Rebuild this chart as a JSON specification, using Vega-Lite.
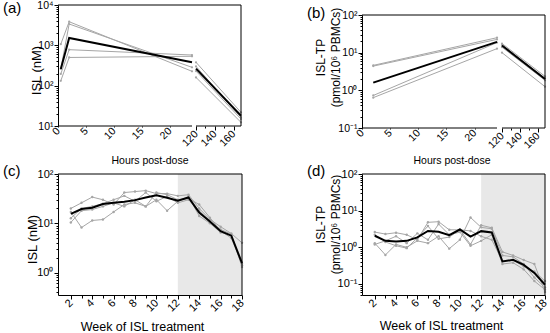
{
  "$schema": "https://vega.github.io/schema/vega-lite/v6.json",
  "padding": {"left": 3, "top": 0, "right": 0, "bottom": 0},
  "datasets": {
    "a": [
      {"id": "P1", "s": 1, "t": 0.5, "v": 1070}, {"id": "P1", "s": 1, "t": 2, "v": 3850}, {"id": "P1", "s": 1, "t": 24, "v": 227}, {"id": "P1", "s": 2, "t": 120, "v": 380}, {"id": "P1", "s": 2, "t": 168, "v": 21.8},
      {"id": "P2", "s": 1, "t": 0.5, "v": 260}, {"id": "P2", "s": 1, "t": 2, "v": 3380}, {"id": "P2", "s": 1, "t": 24, "v": 285}, {"id": "P2", "s": 2, "t": 120, "v": 300}, {"id": "P2", "s": 2, "t": 168, "v": 16.4},
      {"id": "P3", "s": 1, "t": 0.5, "v": 195}, {"id": "P3", "s": 1, "t": 2, "v": 780}, {"id": "P3", "s": 1, "t": 24, "v": 575}, {"id": "P3", "s": 2, "t": 120, "v": 230}, {"id": "P3", "s": 2, "t": 168, "v": 14.9},
      {"id": "P4", "s": 1, "t": 0.5, "v": 132}, {"id": "P4", "s": 1, "t": 2, "v": 500}, {"id": "P4", "s": 1, "t": 24, "v": 535}, {"id": "P4", "s": 2, "t": 120, "v": 160}, {"id": "P4", "s": 2, "t": 168, "v": 12.3},
      {"id": "GM", "s": 1, "t": 0.5, "v": 260}, {"id": "GM", "s": 1, "t": 2, "v": 1520}, {"id": "GM", "s": 1, "t": 24, "v": 380}, {"id": "GM", "s": 2, "t": 120, "v": 265}, {"id": "GM", "s": 2, "t": 168, "v": 18}
    ],
    "b": [
      {"id": "P1", "s": 1, "t": 2, "v": 4.6}, {"id": "P1", "s": 1, "t": 24, "v": 25}, {"id": "P1", "s": 2, "t": 120, "v": 17.5}, {"id": "P1", "s": 2, "t": 168, "v": 2.35},
      {"id": "P2", "s": 1, "t": 2, "v": 4.4}, {"id": "P2", "s": 1, "t": 24, "v": 22.5}, {"id": "P2", "s": 2, "t": 120, "v": 16}, {"id": "P2", "s": 2, "t": 168, "v": 2.1},
      {"id": "P3", "s": 1, "t": 2, "v": 0.73}, {"id": "P3", "s": 1, "t": 24, "v": 18.5}, {"id": "P3", "s": 2, "t": 120, "v": 14}, {"id": "P3", "s": 2, "t": 168, "v": 1.85},
      {"id": "P4", "s": 1, "t": 2, "v": 0.64}, {"id": "P4", "s": 1, "t": 24, "v": 12.8}, {"id": "P4", "s": 2, "t": 120, "v": 10}, {"id": "P4", "s": 2, "t": 168, "v": 1.25},
      {"id": "GM", "s": 1, "t": 2, "v": 1.6}, {"id": "GM", "s": 1, "t": 24, "v": 19.4}, {"id": "GM", "s": 2, "t": 120, "v": 15.5}, {"id": "GM", "s": 2, "t": 168, "v": 2.0}
    ],
    "c": [
      {"id": "P1", "t": 2, "v": 20}, {"id": "P1", "t": 3, "v": 26}, {"id": "P1", "t": 4, "v": 34}, {"id": "P1", "t": 5, "v": 30}, {"id": "P1", "t": 6, "v": 24}, {"id": "P1", "t": 7, "v": 42}, {"id": "P1", "t": 8, "v": 44}, {"id": "P1", "t": 9, "v": 46}, {"id": "P1", "t": 10, "v": 40}, {"id": "P1", "t": 11, "v": 40}, {"id": "P1", "t": 12, "v": 36}, {"id": "P1", "t": 13, "v": 38}, {"id": "P1", "t": 14, "v": 20}, {"id": "P1", "t": 15, "v": 12}, {"id": "P1", "t": 16, "v": 8.5}, {"id": "P1", "t": 17, "v": 6.2}, {"id": "P1", "t": 18, "v": 4.0},
      {"id": "P2", "t": 2, "v": 17}, {"id": "P2", "t": 3, "v": 8.2}, {"id": "P2", "t": 4, "v": 11.4}, {"id": "P2", "t": 5, "v": 11.9}, {"id": "P2", "t": 6, "v": 17}, {"id": "P2", "t": 7, "v": 24}, {"id": "P2", "t": 8, "v": 26}, {"id": "P2", "t": 9, "v": 22}, {"id": "P2", "t": 10, "v": 30}, {"id": "P2", "t": 11, "v": 18}, {"id": "P2", "t": 12, "v": 28}, {"id": "P2", "t": 13, "v": 35}, {"id": "P2", "t": 14, "v": 14}, {"id": "P2", "t": 15, "v": 10}, {"id": "P2", "t": 16, "v": 6.5}, {"id": "P2", "t": 17, "v": 5.8}, {"id": "P2", "t": 18, "v": 1.4},
      {"id": "P3", "t": 2, "v": 12.7}, {"id": "P3", "t": 3, "v": 20}, {"id": "P3", "t": 4, "v": 22}, {"id": "P3", "t": 5, "v": 25}, {"id": "P3", "t": 6, "v": 30}, {"id": "P3", "t": 7, "v": 36}, {"id": "P3", "t": 8, "v": 28}, {"id": "P3", "t": 9, "v": 42}, {"id": "P3", "t": 10, "v": 28}, {"id": "P3", "t": 11, "v": 35}, {"id": "P3", "t": 12, "v": 26}, {"id": "P3", "t": 13, "v": 30}, {"id": "P3", "t": 14, "v": 18}, {"id": "P3", "t": 15, "v": 11}, {"id": "P3", "t": 16, "v": 7.5}, {"id": "P3", "t": 17, "v": 6}, {"id": "P3", "t": 18, "v": 1.3},
      {"id": "P4", "t": 2, "v": 10.4}, {"id": "P4", "t": 3, "v": 18}, {"id": "P4", "t": 4, "v": 19}, {"id": "P4", "t": 5, "v": 22}, {"id": "P4", "t": 6, "v": 26}, {"id": "P4", "t": 7, "v": 22}, {"id": "P4", "t": 8, "v": 30}, {"id": "P4", "t": 9, "v": 22}, {"id": "P4", "t": 10, "v": 42}, {"id": "P4", "t": 11, "v": 38}, {"id": "P4", "t": 12, "v": 30}, {"id": "P4", "t": 13, "v": 32}, {"id": "P4", "t": 14, "v": 24}, {"id": "P4", "t": 15, "v": 13}, {"id": "P4", "t": 16, "v": 7}, {"id": "P4", "t": 17, "v": 5}, {"id": "P4", "t": 18, "v": 1.5},
      {"id": "GM", "t": 2, "v": 15.5}, {"id": "GM", "t": 3, "v": 19.5}, {"id": "GM", "t": 4, "v": 20.7}, {"id": "GM", "t": 5, "v": 24.5}, {"id": "GM", "t": 6, "v": 26}, {"id": "GM", "t": 7, "v": 27.3}, {"id": "GM", "t": 8, "v": 29.5}, {"id": "GM", "t": 9, "v": 33.4}, {"id": "GM", "t": 10, "v": 37.2}, {"id": "GM", "t": 11, "v": 32.9}, {"id": "GM", "t": 12, "v": 28.6}, {"id": "GM", "t": 13, "v": 33.4}, {"id": "GM", "t": 14, "v": 16.5}, {"id": "GM", "t": 15, "v": 10.9}, {"id": "GM", "t": 16, "v": 6.9}, {"id": "GM", "t": 17, "v": 5.6}, {"id": "GM", "t": 18, "v": 1.55}
    ],
    "d": [
      {"id": "P1", "t": 2, "v": 2.6}, {"id": "P1", "t": 3, "v": 2.3}, {"id": "P1", "t": 4, "v": 2.5}, {"id": "P1", "t": 5, "v": 2.2}, {"id": "P1", "t": 6, "v": 1.6}, {"id": "P1", "t": 7, "v": 4.8}, {"id": "P1", "t": 8, "v": 5.0}, {"id": "P1", "t": 9, "v": 3.0}, {"id": "P1", "t": 10, "v": 3.0}, {"id": "P1", "t": 11, "v": 1.2}, {"id": "P1", "t": 12, "v": 4.0}, {"id": "P1", "t": 13, "v": 3.4}, {"id": "P1", "t": 14, "v": 0.75}, {"id": "P1", "t": 15, "v": 0.6}, {"id": "P1", "t": 16, "v": 0.45}, {"id": "P1", "t": 17, "v": 0.35}, {"id": "P1", "t": 18, "v": 0.06},
      {"id": "P2", "t": 2, "v": 1.3}, {"id": "P2", "t": 3, "v": 0.62}, {"id": "P2", "t": 4, "v": 1.2}, {"id": "P2", "t": 5, "v": 1.0}, {"id": "P2", "t": 6, "v": 1.5}, {"id": "P2", "t": 7, "v": 1.3}, {"id": "P2", "t": 8, "v": 2.0}, {"id": "P2", "t": 9, "v": 0.92}, {"id": "P2", "t": 10, "v": 1.6}, {"id": "P2", "t": 11, "v": 6.5}, {"id": "P2", "t": 12, "v": 3.5}, {"id": "P2", "t": 13, "v": 3.2}, {"id": "P2", "t": 14, "v": 0.6}, {"id": "P2", "t": 15, "v": 0.55}, {"id": "P2", "t": 16, "v": 0.35}, {"id": "P2", "t": 17, "v": 0.15}, {"id": "P2", "t": 18, "v": 0.08},
      {"id": "P3", "t": 2, "v": 2.2}, {"id": "P3", "t": 3, "v": 1.4}, {"id": "P3", "t": 4, "v": 1.1}, {"id": "P3", "t": 5, "v": 0.95}, {"id": "P3", "t": 6, "v": 1.8}, {"id": "P3", "t": 7, "v": 3.8}, {"id": "P3", "t": 8, "v": 1.7}, {"id": "P3", "t": 9, "v": 1.9}, {"id": "P3", "t": 10, "v": 3.0}, {"id": "P3", "t": 11, "v": 2.8}, {"id": "P3", "t": 12, "v": 2.0}, {"id": "P3", "t": 13, "v": 1.6}, {"id": "P3", "t": 14, "v": 0.42}, {"id": "P3", "t": 15, "v": 0.45}, {"id": "P3", "t": 16, "v": 0.3}, {"id": "P3", "t": 17, "v": 0.22}, {"id": "P3", "t": 18, "v": 0.12},
      {"id": "P4", "t": 2, "v": 1.2}, {"id": "P4", "t": 3, "v": 1.5}, {"id": "P4", "t": 4, "v": 2.0}, {"id": "P4", "t": 5, "v": 1.3}, {"id": "P4", "t": 6, "v": 2.4}, {"id": "P4", "t": 7, "v": 1.6}, {"id": "P4", "t": 8, "v": 4.3}, {"id": "P4", "t": 9, "v": 2.2}, {"id": "P4", "t": 10, "v": 2.6}, {"id": "P4", "t": 11, "v": 1.1}, {"id": "P4", "t": 12, "v": 1.5}, {"id": "P4", "t": 13, "v": 2.2}, {"id": "P4", "t": 14, "v": 0.35}, {"id": "P4", "t": 15, "v": 0.38}, {"id": "P4", "t": 16, "v": 0.25}, {"id": "P4", "t": 17, "v": 0.12}, {"id": "P4", "t": 18, "v": 0.07},
      {"id": "GM", "t": 2, "v": 2.07}, {"id": "GM", "t": 3, "v": 1.5}, {"id": "GM", "t": 4, "v": 1.43}, {"id": "GM", "t": 5, "v": 1.5}, {"id": "GM", "t": 6, "v": 1.86}, {"id": "GM", "t": 7, "v": 2.8}, {"id": "GM", "t": 8, "v": 2.65}, {"id": "GM", "t": 9, "v": 2.15}, {"id": "GM", "t": 10, "v": 3.06}, {"id": "GM", "t": 11, "v": 1.95}, {"id": "GM", "t": 12, "v": 2.76}, {"id": "GM", "t": 13, "v": 2.54}, {"id": "GM", "t": 14, "v": 0.41}, {"id": "GM", "t": 15, "v": 0.455}, {"id": "GM", "t": 16, "v": 0.33}, {"id": "GM", "t": 17, "v": 0.2}, {"id": "GM", "t": 18, "v": 0.095}
    ],
    "shade": [{"s": 12, "e": 18}],
    "segs": [{"x0": 0, "x1": 24}, {"x0": 120, "x1": 168}],
    "one": [{}]
  },
  "bounds": "flush",
  "columns": 2,
  "spacing": {"row": 46, "column": 120},
  "concat": [
    {
      "width": 183, "height": 121,
      "title": {"text": "(a)", "anchor": "start", "frame": "group", "dx": -55, "dy": 27.5, "offset": 0, "baseline": "alphabetic", "fontSize": 15, "fontWeight": "normal", "font": "Liberation Sans", "color": "#000"},
      "data": {"name": "a"},
      "layer": [
        {
          "transform": [{"filter": "datum.id != 'GM'"}],
          "mark": {"type": "line", "color": "#a6a6a6", "strokeWidth": 1, "point": {"filled": true, "size": 5, "color": "#a6a6a6"}},
          "encoding": {
            "x": {"field": "t", "type": "quantitative", "scale": {"domain": [0, 24, 120, 168], "range": [0, 134, 138, 183], "nice": false, "zero": false},
              "axis": {"title": "Hours post-dose", "domain": false, "tickCount": 100, "values": [0, 2.5, 5, 7.5, 10, 12.5, 15, 17.5, 20, 22.5, 120, 130, 140, 150, 160], "labelExpr": "(datum.value < 24 ? datum.value % 5 == 0 : datum.value % 20 == 0) ? format(datum.value, 'd') : ''", "tickSize": {"condition": {"test": "datum.value < 24 ? datum.value % 5 == 0 : datum.value % 20 == 0", "value": 4}, "value": 2}, "labelAngle": -45, "labelAlign": "right", "labelBaseline": "middle", "labelFontSize": 10.5, "titleFontSize": 10.5, "titleX": 91.5, "titleY": 37, "titleBaseline": "alphabetic", "labelPadding": 2}},
            "y": {"field": "v", "type": "quantitative", "scale": {"type": "log", "domain": [10, 10000], "nice": false},
              "axis": {"title": "ISL (nM)", "tickCount": 100, "values": [10, 20, 30, 40, 50, 60, 70, 80, 90, 100, 200, 300, 400, 500, 600, 700, 800, 900, 1000, 2000, 3000, 4000, 5000, 6000, 7000, 8000, 9000, 10000], "labelExpr": "datum.value==10000?'10⁴':datum.value==1000?'10³':datum.value==100?'10²':datum.value==10?'10¹':''", "tickSize": {"condition": {"test": "datum.value==10||datum.value==100||datum.value==1000||datum.value==10000", "value": 4}, "value": 2}, "labelFontSize": 10.5, "titleFontSize": 13, "titleX": -22, "titleY": 65, "titleBaseline": "middle", "labelPadding": 1}},
            "detail": [{"field": "id"}, {"field": "s"}]
          }
        },
        {
          "transform": [{"filter": "datum.id == 'GM'"}],
          "mark": {"type": "line", "color": "#000", "strokeWidth": 2},
          "encoding": {"x": {"field": "t", "type": "quantitative"}, "y": {"field": "v", "type": "quantitative"}, "detail": {"field": "s"}}
        },
        {
          "data": {"name": "segs"},
          "mark": {"type": "rule", "color": "#000", "strokeWidth": 1},
          "encoding": {"x": {"field": "x0", "type": "quantitative"}, "x2": {"field": "x1"}, "y": {"datum": 10}}
        },
        {
          "data": {"name": "one"},
          "mark": {"type": "rule", "color": "#000", "strokeWidth": 1},
          "encoding": {"y": {"datum": 10000}}
        },
        {
          "data": {"name": "one"},
          "mark": {"type": "rule", "color": "#000", "strokeWidth": 1},
          "encoding": {"x": {"datum": 168}}
        }
      ]
    },
    {
      "width": 183, "height": 123,
      "title": {"text": "(b)", "anchor": "start", "frame": "group", "dx": -55, "dy": 27.5, "offset": 0, "baseline": "alphabetic", "fontSize": 15, "fontWeight": "normal", "font": "Liberation Sans", "color": "#000"},
      "data": {"name": "b"},
      "layer": [
        {
          "transform": [{"filter": "datum.id != 'GM'"}],
          "mark": {"type": "line", "color": "#a6a6a6", "strokeWidth": 1, "point": {"filled": true, "size": 5, "color": "#a6a6a6"}},
          "encoding": {
            "x": {"field": "t", "type": "quantitative", "scale": {"domain": [0, 24, 120, 168], "range": [0, 135, 140, 183], "nice": false, "zero": false},
              "axis": {"title": "Hours post-dose", "domain": false, "tickCount": 100, "values": [0, 2.5, 5, 7.5, 10, 12.5, 15, 17.5, 20, 22.5, 120, 130, 140, 150, 160], "labelExpr": "(datum.value < 24 ? datum.value % 5 == 0 : datum.value % 20 == 0) ? format(datum.value, 'd') : ''", "tickSize": {"condition": {"test": "datum.value < 24 ? datum.value % 5 == 0 : datum.value % 20 == 0", "value": 4}, "value": 2}, "labelAngle": -45, "labelAlign": "right", "labelBaseline": "middle", "labelFontSize": 10.5, "titleFontSize": 10.5, "titleX": 89.5, "titleY": 35.5, "titleBaseline": "alphabetic", "labelPadding": 2}},
            "y": {"field": "v", "type": "quantitative", "scale": {"type": "log", "domain": [0.1, 100], "nice": false, "range": [123, 10]},
              "axis": {"title": ["ISL-TP", "(pmol/10⁶ PBMCs)"], "tickCount": 100, "values": [0.1, 0.2, 0.3, 0.4, 0.5, 0.6, 0.7, 0.8, 0.9, 1, 2, 3, 4, 5, 6, 7, 8, 9, 10, 20, 30, 40, 50, 60, 70, 80, 90, 100], "labelExpr": "datum.value==100?'10²':datum.value==10?'10¹':datum.value==1?'10⁰':datum.value==0.1?'10⁻¹':''", "tickSize": {"condition": {"test": "datum.value==0.1||datum.value==1||datum.value==10||datum.value==100", "value": 4}, "value": 2}, "labelFontSize": 10.5, "titleFontSize": 12, "titleLineHeight": 15, "titleX": -42, "titleY": 52, "titleBaseline": "middle", "labelPadding": 1}},
            "detail": [{"field": "id"}, {"field": "s"}]
          }
        },
        {
          "transform": [{"filter": "datum.id == 'GM'"}],
          "mark": {"type": "line", "color": "#000", "strokeWidth": 2},
          "encoding": {"x": {"field": "t", "type": "quantitative"}, "y": {"field": "v", "type": "quantitative"}, "detail": {"field": "s"}}
        },
        {
          "data": {"name": "segs"},
          "mark": {"type": "rule", "color": "#000", "strokeWidth": 1},
          "encoding": {"x": {"field": "x0", "type": "quantitative"}, "x2": {"field": "x1"}, "y": {"datum": 0.1}}
        },
        {
          "data": {"name": "one"},
          "mark": {"type": "rule", "color": "#000", "strokeWidth": 1},
          "encoding": {"y": {"datum": 100}}
        },
        {
          "data": {"name": "one"},
          "mark": {"type": "rule", "color": "#000", "strokeWidth": 1},
          "encoding": {"x": {"datum": 168}, "y": {"datum": 0.1}, "y2": {"datum": 100}}
        }
      ]
    },
    {
      "width": 184, "height": 121,
      "title": {"text": "(c)", "anchor": "start", "frame": "group", "dx": -55, "dy": 23, "offset": 0, "baseline": "alphabetic", "fontSize": 15, "fontWeight": "normal", "font": "Liberation Sans", "color": "#000"},
      "data": {"name": "c"},
      "layer": [
        {
          "data": {"name": "shade"},
          "mark": {"type": "rect", "color": "#e8e8e8"},
          "encoding": {"x": {"field": "s", "type": "quantitative"}, "x2": {"field": "e"}}
        },
        {
          "transform": [{"filter": "datum.id != 'GM'"}],
          "mark": {"type": "line", "color": "#a6a6a6", "strokeWidth": 1, "point": {"filled": true, "size": 6, "color": "#a6a6a6"}},
          "encoding": {
            "x": {"field": "t", "type": "quantitative", "scale": {"domain": [0.8, 18], "nice": false, "zero": false},
              "axis": {"title": "Week of ISL treatment", "tickCount": 100, "values": [2, 3, 4, 5, 6, 7, 8, 9, 10, 11, 12, 13, 14, 15, 16, 17, 18], "labelExpr": "datum.value % 2 == 0 ? format(datum.value, 'd') : ''", "tickSize": {"condition": {"test": "datum.value % 2 == 0", "value": 4}, "value": 3}, "labelAngle": -45, "labelAlign": "right", "labelBaseline": "middle", "labelFontSize": 11, "titleFontSize": 12.5, "titleX": 84, "titleY": 35, "titleBaseline": "alphabetic", "labelPadding": 2}},
            "y": {"field": "v", "type": "quantitative", "scale": {"type": "log", "domain": [0.35, 100], "nice": false},
              "axis": {"title": "ISL (nM)", "tickCount": 100, "values": [0.4, 0.5, 0.6, 0.7, 0.8, 0.9, 1, 2, 3, 4, 5, 6, 7, 8, 9, 10, 20, 30, 40, 50, 60, 70, 80, 90, 100], "labelExpr": "datum.value==100?'10²':datum.value==10?'10¹':datum.value==1?'10⁰':''", "tickSize": {"condition": {"test": "datum.value==1||datum.value==10||datum.value==100", "value": 4}, "value": 2}, "labelFontSize": 11, "titleFontSize": 13, "titleX": -25.5, "titleY": 65, "titleBaseline": "middle", "labelPadding": 1}},
            "detail": {"field": "id"}
          }
        },
        {
          "transform": [{"filter": "datum.id == 'GM'"}],
          "mark": {"type": "line", "color": "#000", "strokeWidth": 2},
          "encoding": {"x": {"field": "t", "type": "quantitative"}, "y": {"field": "v", "type": "quantitative"}}
        },
        {
          "data": {"name": "one"},
          "mark": {"type": "rule", "color": "#000", "strokeWidth": 1},
          "encoding": {"y": {"datum": 100}}
        },
        {
          "data": {"name": "one"},
          "mark": {"type": "rule", "color": "#000", "strokeWidth": 1},
          "encoding": {"x": {"datum": 18}}
        }
      ]
    },
    {
      "width": 183, "height": 121,
      "title": {"text": "(d)", "anchor": "start", "frame": "group", "dx": -55, "dy": 23, "offset": 0, "baseline": "alphabetic", "fontSize": 15, "fontWeight": "normal", "font": "Liberation Sans", "color": "#000"},
      "data": {"name": "d"},
      "layer": [
        {
          "data": {"name": "shade"},
          "mark": {"type": "rect", "color": "#e8e8e8"},
          "encoding": {"x": {"field": "s", "type": "quantitative"}, "x2": {"field": "e"}}
        },
        {
          "transform": [{"filter": "datum.id != 'GM'"}],
          "mark": {"type": "line", "color": "#a6a6a6", "strokeWidth": 1, "point": {"filled": true, "size": 6, "color": "#a6a6a6"}},
          "encoding": {
            "x": {"field": "t", "type": "quantitative", "scale": {"domain": [0.8, 18], "nice": false, "zero": false},
              "axis": {"title": "Week of ISL treatment", "tickCount": 100, "values": [2, 3, 4, 5, 6, 7, 8, 9, 10, 11, 12, 13, 14, 15, 16, 17, 18], "labelExpr": "datum.value % 2 == 0 ? format(datum.value, 'd') : ''", "tickSize": {"condition": {"test": "datum.value % 2 == 0", "value": 4}, "value": 3}, "labelAngle": -45, "labelAlign": "right", "labelBaseline": "middle", "labelFontSize": 11, "titleFontSize": 12.5, "titleX": 79, "titleY": 34, "titleBaseline": "alphabetic", "labelPadding": 2}},
            "y": {"field": "v", "type": "quantitative", "scale": {"type": "log", "domain": [0.05, 100], "nice": false},
              "axis": {"title": ["ISL-TP", "(pmol/10⁶ PBMCs)"], "tickCount": 100, "values": [0.05, 0.06, 0.07, 0.08, 0.09, 0.1, 0.2, 0.3, 0.4, 0.5, 0.6, 0.7, 0.8, 0.9, 1, 2, 3, 4, 5, 6, 7, 8, 9, 10, 20, 30, 40, 50, 60, 70, 80, 90, 100], "labelExpr": "datum.value==100?'10²':datum.value==10?'10¹':datum.value==1?'10⁰':datum.value==0.1?'10⁻¹':''", "tickSize": {"condition": {"test": "datum.value==0.1||datum.value==1||datum.value==10||datum.value==100", "value": 4}, "value": 2}, "labelFontSize": 11, "titleFontSize": 12, "titleLineHeight": 15, "titleX": -42, "titleY": 50, "titleBaseline": "middle", "labelPadding": 1}},
            "detail": {"field": "id"}
          }
        },
        {
          "transform": [{"filter": "datum.id == 'GM'"}],
          "mark": {"type": "line", "color": "#000", "strokeWidth": 2},
          "encoding": {"x": {"field": "t", "type": "quantitative"}, "y": {"field": "v", "type": "quantitative"}}
        },
        {
          "data": {"name": "one"},
          "mark": {"type": "rule", "color": "#000", "strokeWidth": 1},
          "encoding": {"y": {"datum": 100}}
        },
        {
          "data": {"name": "one"},
          "mark": {"type": "rule", "color": "#000", "strokeWidth": 1},
          "encoding": {"x": {"datum": 18}}
        }
      ]
    }
  ],
  "config": {
    "font": "Liberation Sans",
    "view": {"stroke": null},
    "axis": {"domainColor": "#000", "tickColor": "#000", "labelColor": "#000", "titleColor": "#000", "grid": false, "labelFont": "Liberation Sans", "titleFont": "Liberation Sans", "titleFontWeight": "normal", "domainWidth": 1, "tickWidth": 1, "labelOverlap": false, "labelFlush": false, "labelBound": false}
  }
}
